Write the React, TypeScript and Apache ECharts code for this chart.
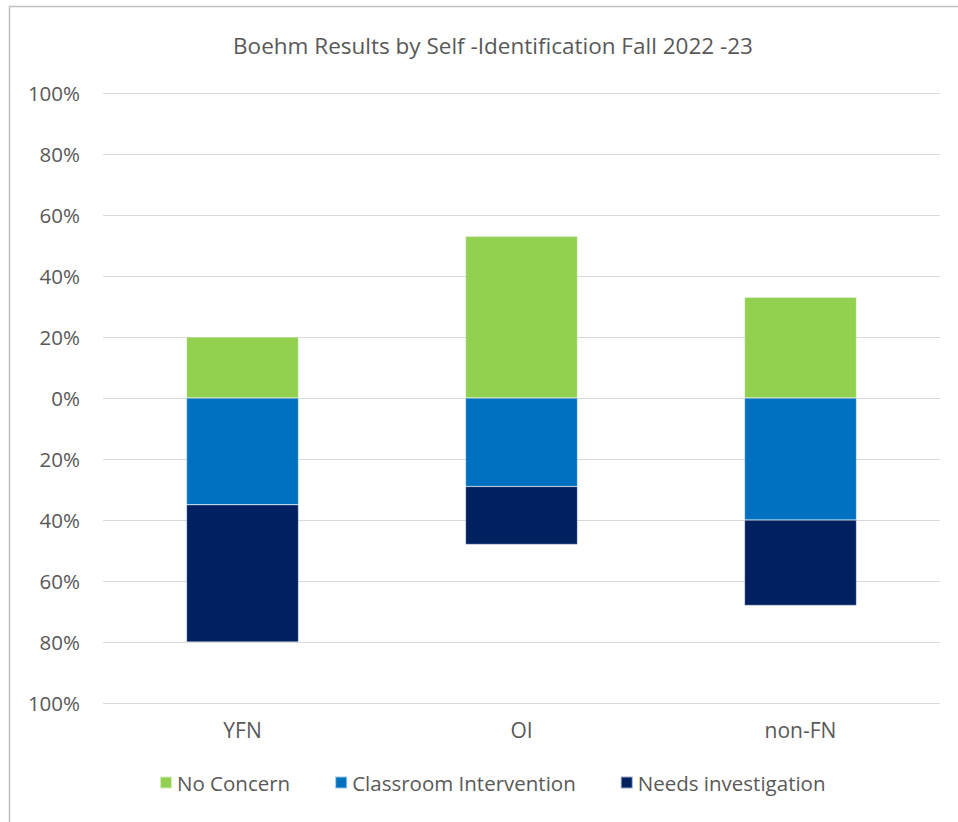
import React, { useEffect, useRef } from "react";
import * as echarts from "echarts";

const categories = ["YFN", "OI", "non-FN"];
const noConcern = [20, 53, 33];
const classroomIntervention = [-35, -29, -40];
const needsInvestigation = [-45, -19, -28];
const seriesNames = ["No Concern", "Classroom Intervention", "Needs investigation"];
const title = "Boehm Results by Self -Identification Fall 2022 -23";

const FONT = "'Open Sans', 'Noto Sans', sans-serif";
const TEXT = "#595959";

export default function App() {
  const ref = useRef<HTMLDivElement>(null);
  useEffect(() => {
    if (!ref.current) return;
    const chart = echarts.init(ref.current, null, { renderer: "svg" });
    const barStyle = { borderColor: "rgba(255,255,255,0.6)", borderWidth: 0.5 };
    chart.setOption({
      animation: false,
      backgroundColor: "#ffffff",
      textStyle: { fontFamily: FONT },
      title: {
        text: title,
        left: 488,
        top: 29,
        textAlign: "center",
        textStyle: { fontFamily: FONT, fontSize: 22.5, fontWeight: "normal", color: TEXT },
      },
      graphic: [
        {
          type: "rect",
          shape: { x: 9.5, y: 6.5, width: 980, height: 840 },
          style: { fill: "none", stroke: "#bfbfbf", lineWidth: 1.5 },
          silent: true,
        },
      ],
      legend: {
        bottom: 24,
        left: 154,
        itemWidth: 12,
        itemHeight: 12,
        itemGap: 44,
        icon: "rect",
        data: seriesNames,
        textStyle: { fontFamily: FONT, fontSize: 20.5, color: TEXT, padding: [0, 0, 0, 0] },
      },
      grid: { left: 103, right: 18, top: 93, bottom: 119 },
      xAxis: {
        type: "category",
        data: categories,
        axisLine: { show: false },
        axisTick: { show: false },
        axisLabel: { fontFamily: FONT, fontSize: 21, color: TEXT, margin: 16 },
      },
      yAxis: {
        type: "value",
        min: -100,
        max: 100,
        interval: 20,
        axisLine: { show: false },
        axisTick: { show: false },
        splitLine: { lineStyle: { color: "#d9d9d9", width: 1 } },
        axisLabel: {
          fontFamily: FONT,
          fontSize: 20.5,
          color: TEXT,
          margin: 23,
          formatter: (v: number) => Math.abs(v) + "%",
        },
      },
      series: [
        {
          name: seriesNames[0],
          type: "bar",
          stack: "s",
          barWidth: 112,
          data: noConcern,
          itemStyle: { color: "#92D050", ...barStyle },
        },
        {
          name: seriesNames[1],
          type: "bar",
          stack: "s",
          barWidth: 112,
          data: classroomIntervention,
          itemStyle: { color: "#0070C0", ...barStyle },
        },
        {
          name: seriesNames[2],
          type: "bar",
          stack: "s",
          barWidth: 112,
          data: needsInvestigation,
          itemStyle: { color: "#002060", ...barStyle },
        },
      ],
    });
    return () => chart.dispose();
  }, []);
  return (
    <div
      ref={ref}
      style={{ position: "fixed", left: 0, top: 0, width: 958, height: 822, background: "#fff" }}
    />
  );
}
